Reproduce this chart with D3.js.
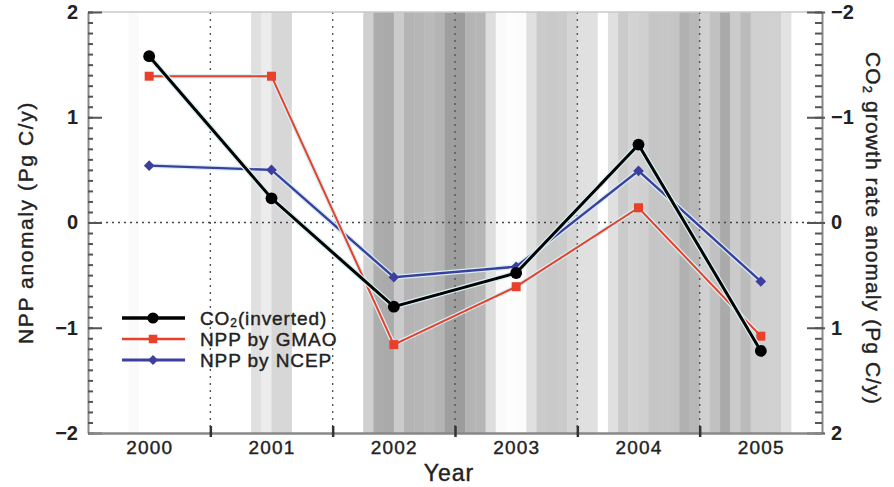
<!DOCTYPE html>
<html>
<head>
<meta charset="utf-8">
<script src="https://cdn.jsdelivr.net/npm/d3@7"></script>
<style>
  body { margin: 0; background: #fff; }
  svg { display: block; font-family: "Liberation Sans", Arial, sans-serif; }
  .heavy { stroke: #222; stroke-width: 0.4px; }
</style>
</head>
<body>
<div id="chart"></div>
<script>
// values
const years = [2000, 2001, 2002, 2003, 2004, 2005];
const co2Inverted = [1.58, 0.23, -0.80, -0.48, 0.74, -1.22];
const nppGmao = [1.39, 1.39, -1.16, -0.61, 0.14, -1.08];
const nppNcep = [0.54, 0.50, -0.52, -0.42, 0.49, -0.56];
const leftTicks = [-2, -1, 0, 1, 2];
const rightTicks = [-2, -1, 0, 1, 2];
// monthly shading index, first month = Jul 1999
const bandIndex = [
  0, 0, 0, 0, 0.05, 0, 0, 0, 0, 0, 0, 0,
  0, 0, 0, 0, 0.3, 0.18, 0.38, 0.38, 0, 0, 0, 0,
  0, 0, 0, 0.45, 0.8, 0.82, 0.5, 0.72, 0.7, 0.66, 0.72, 0.92,
  0.95, 0.72, 0.7, 0.32, 0.05, 0.02, 0.03, 0.3, 0.5, 0.52, 0.5, 0.4,
  0.3, 0.3, 0, 0.3, 0.5, 0.42, 0.45, 0.56, 0.55, 0.56, 0.75, 0.68,
  0.45, 0.6, 0.82, 0.5, 0.65, 0.45, 0.45, 0.45, 0.28, 0, 0, 0
];
const bandStart = 1999.5;

const width = 894;
const height = 487;
const margin = { top: 12, right: 72, bottom: 54, left: 88 };
const font = '"Liberation Sans", Arial, sans-serif';

const svg = d3.select('#chart')
  .append('svg')
  .attr('width', width)
  .attr('height', height);

const x = d3.scaleLinear()
  .domain([1999.5, 2005.5])
  .range([margin.left, width - margin.right]);

const y = d3.scaleLinear()
  .domain([-2, 2])
  .range([height - margin.bottom, margin.top]);

// right axis is the same scale but inverted (CO2 growth rate)
const yRight = d3.scaleLinear()
  .domain([2, -2])
  .range([height - margin.bottom, margin.top]);

const gray = d3.scaleLinear()
  .domain([0, 1])
  .range(['#ffffff', '#979797']);

// monthly shaded bands
svg.append('g')
  .selectAll('rect')
  .data(bandIndex.map((v, i) => ({ t: bandStart + i / 12, v: v })))
  .join('rect')
  .attr('x', d => x(d.t))
  .attr('width', d => x(d.t + 1 / 12) - x(d.t) + 0.4)
  .attr('y', margin.top)
  .attr('height', y(-2) - y(2))
  .attr('fill', d => gray(d.v));

// dotted year boundaries
const bounds = years.slice(0, -1).map(d => d + 0.5);
svg.append('g')
  .selectAll('line')
  .data(bounds)
  .join('line')
  .attr('x1', d => x(d))
  .attr('x2', d => x(d))
  .attr('y1', y(2))
  .attr('y2', y(-2))
  .attr('stroke', '#555')
  .attr('stroke-width', 1.4)
  .attr('stroke-dasharray', '2,5');

svg.append('line')
  .attr('x1', x.range()[0])
  .attr('x2', x.range()[1])
  .attr('y1', y(0))
  .attr('y2', y(0))
  .attr('stroke', '#444')
  .attr('stroke-width', 1.4)
  .attr('stroke-dasharray', '2,4');

// frame
svg.append('line')
  .attr('x1', x.range()[0]).attr('x2', x.range()[1])
  .attr('y1', y(2)).attr('y2', y(2))
  .attr('stroke', '#c8c8c8').attr('stroke-width', 1.5);

const signed = d => d < 0 ? '\u2212' + Math.abs(d) : d;

function styleLabels(g) {
  g.selectAll('text')
    .attr('font-size', 20)
    .attr('font-weight', 'bold')
    .attr('fill', '#222')
    .attr('font-family', font);
}

// left axis
const leftAxis = svg.append('g')
  .attr('transform', `translate(${margin.left},0)`);
leftAxis.call(d3.axisLeft(y).ticks(40).tickSize(-5).tickSizeOuter(0).tickFormat(''))
  .call(g => g.selectAll('.tick line').attr('stroke', '#555').attr('stroke-width', 2));
leftAxis.append('g')
  .call(d3.axisLeft(y).tickValues(leftTicks).tickSize(-14).tickPadding(10).tickFormat(signed))
  .call(g => g.select('.domain').remove())
  .call(g => g.selectAll('.tick line').attr('stroke', '#555').attr('stroke-width', 2))
  .call(styleLabels);
leftAxis.select('.domain').attr('stroke', '#888').attr('stroke-width', 2);

// right axis
const rightAxis = svg.append('g')
  .attr('transform', `translate(${width - margin.right},0)`);
rightAxis.call(d3.axisRight(yRight).ticks(40).tickSize(-7).tickSizeOuter(0).tickFormat(''))
  .call(g => g.selectAll('.tick line').attr('stroke', '#555').attr('stroke-width', 2));
rightAxis.append('g')
  .call(d3.axisRight(yRight).tickValues(rightTicks).tickSize(-15).tickPadding(9).tickFormat(signed))
  .call(g => g.select('.domain').remove())
  .call(g => g.selectAll('.tick line').attr('x2', 3).attr('x1', -15).attr('stroke', '#555').attr('stroke-width', 2))
  .call(styleLabels);
rightAxis.select('.domain').attr('stroke', '#888').attr('stroke-width', 2);

// bottom axis: ticks at boundaries, labels at year centres
const bottom = svg.append('g')
  .attr('transform', `translate(0,${height - margin.bottom})`);
bottom.call(d3.axisBottom(x).tickValues(bounds).tickSize(4).tickSizeOuter(0).tickFormat(''))
  .call(g => g.selectAll('.tick line').attr('y1', -7).attr('stroke', '#333').attr('stroke-width', 2.5));
bottom.select('.domain').attr('stroke', '#888').attr('stroke-width', 2.5);
bottom.append('g')
  .call(d3.axisBottom(x).tickValues(years).tickSize(0).tickPadding(8).tickFormat(d3.format('d')))
  .call(g => g.select('.domain').remove())
  .call(g => g.selectAll('text').attr('font-size', 19).attr('fill', '#222').attr('class', 'heavy')
    .attr('letter-spacing', 1.2).attr('font-family', font));

// axis titles
svg.append('text')
  .attr('class', 'heavy')
  .attr('x', 449)
  .attr('y', 481)
  .attr('text-anchor', 'middle')
  .attr('font-size', 23)
  .attr('letter-spacing', 1)
  .attr('fill', '#222')
  .text('Year');

svg.append('text')
  .attr('class', 'heavy')
  .attr('transform', `translate(33,${y(0)}) rotate(-90)`)
  .attr('text-anchor', 'middle')
  .attr('font-size', 21)
  .attr('letter-spacing', 1.6)
  .attr('fill', '#222')
  .text('NPP anomaly (Pg C/y)');

const rt = svg.append('text')
  .attr('class', 'heavy')
  .attr('transform', `translate(866,${y(0) + 6}) rotate(90)`)
  .attr('text-anchor', 'middle')
  .attr('font-size', 21)
  .attr('letter-spacing', 1.1)
  .attr('fill', '#222');
rt.append('tspan').text('CO');
rt.append('tspan').attr('font-size', 13).attr('dy', 3).text('2');
rt.append('tspan').attr('dy', -3).text(' growth rate anomaly (Pg C/y)');

// series
const series = [
  { label: 'CO', sub: '2', rest: '(inverted)', values: co2Inverted, color: '#000', width: 3, symbol: d3.symbolCircle, size: 110 },
  { label: 'NPP by GMAO', values: nppGmao, color: '#e8402a', width: 2, symbol: d3.symbolSquare, size: 81 },
  { label: 'NPP by NCEP', values: nppNcep, color: '#3d3f9f', width: 2.4, symbol: d3.symbolDiamond2, size: 72 }
];

const line = d3.line()
  .x((d, i) => x(years[i]))
  .y(d => y(d));

// draw in order so black ends on top like the original
[series[2], series[1], series[0]].forEach(s => {
  svg.append('path')
    .datum(s.values)
    .attr('fill', 'none')
    .attr('stroke', '#d6eef2')
    .attr('stroke-width', s.width + 2.5)
    .attr('stroke-linejoin', 'round')
    .attr('d', line);
  svg.append('path')
    .datum(s.values)
    .attr('fill', 'none')
    .attr('stroke', s.color)
    .attr('stroke-width', s.width)
    .attr('d', line);
  svg.append('g')
    .selectAll('path')
    .data(s.values)
    .join('path')
    .attr('transform', (d, i) => `translate(${x(years[i])},${y(d)})`)
    .attr('d', d3.symbol().type(s.symbol).size(s.size))
    .attr('fill', s.color);
});

// legend
const legend = svg.append('g');
series.forEach((s, i) => {
  const ly = 318 + i * 21;
  legend.append('line')
    .attr('x1', 122).attr('x2', 185)
    .attr('y1', ly).attr('y2', ly)
    .attr('stroke', s.color)
    .attr('stroke-width', s.width + 0.4);
  legend.append('path')
    .attr('transform', `translate(153,${ly})`)
    .attr('d', d3.symbol().type(s.symbol).size(s.size * 0.9))
    .attr('fill', s.color);
  const t = legend.append('text')
    .attr('class', 'heavy')
    .attr('x', 200)
    .attr('y', ly + 7)
    .attr('font-size', 19)
    .attr('letter-spacing', 0.9)
    .attr('fill', '#222');
  if (s.sub) {
    t.append('tspan').text(s.label);
    t.append('tspan').attr('font-size', 12).attr('dy', 2).text(s.sub);
    t.append('tspan').attr('dy', -2).text(s.rest);
  } else {
    t.text(s.label);
  }
});
</script>
</body>
</html>
